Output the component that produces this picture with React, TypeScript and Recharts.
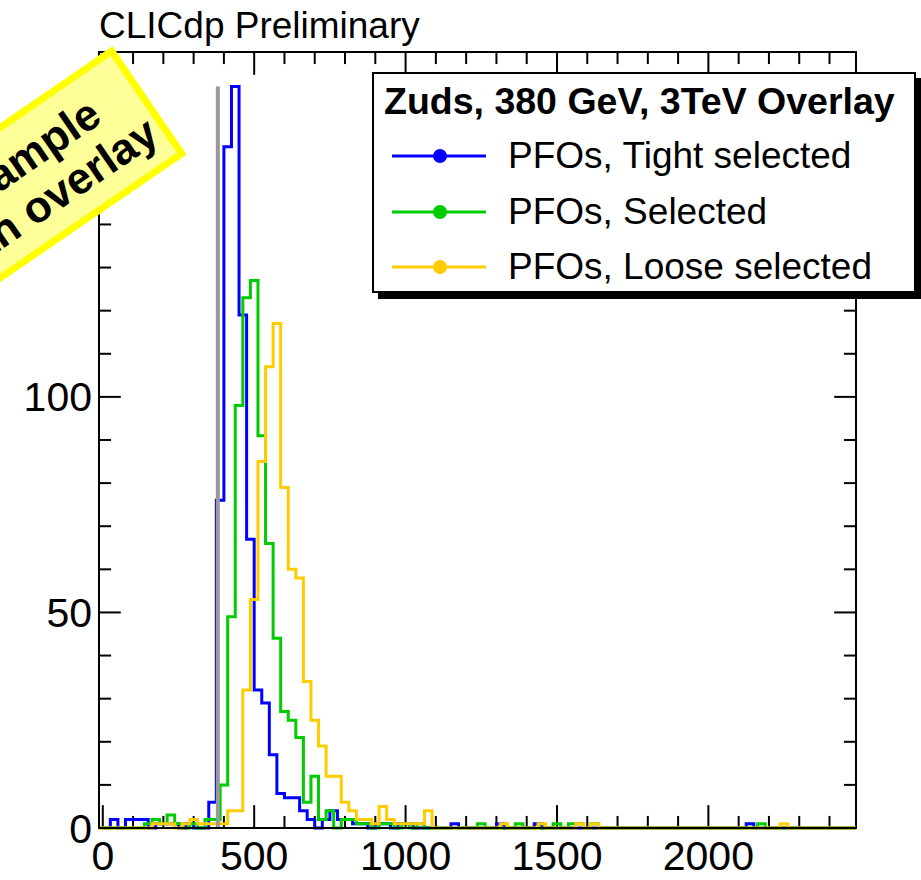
import React from "react";
import { ComposedChart, Line, XAxis, YAxis, ReferenceLine, ReferenceArea, Legend } from "recharts";

const FONT = "'Liberation Sans', Arial, Helvetica, sans-serif";

const BIN = 25;
const X_MIN = -12.5;
const X_MAX = 2487.5;
const Y_MAX = 180;

// counts per 25-unit bin
const TIGHT_START = 0;
const tightCounts = [
  0, 2, 0, 2, 2, 2, 0, 1, 1, 1,
  0, 1, 0, 0, 6, 76, 158, 172, 119, 67,
  32, 29, 17, 8, 7, 7, 4, 2, 0, 2,
  4, 2, 2, 1, 1, 0, 1, 1, 0, 1,
  1, 0, 0, 0, 0, 0, 1, 0, 0, 0,
  0, 0, 1, 0, 0, 0, 0, 1, 0, 0,
  0, 0, 0, 0, 0, 0, 0, 0, 0, 0,
  0, 0, 0, 0, 0, 0, 0, 0, 0, 0,
  0, 0, 0, 0, 0, 1, 0, 0, 0, 0,
  0, 0, 0, 0, 0, 0, 0, 0, 0, 0,
];

const SELECTED_START = -12.5;
const selectedCounts = [
  0, 0, 0, 0, 0, 0, 1, 2, 1, 3,
  1, 0, 1, 0, 2, 2, 10, 49, 98, 123,
  127, 91, 66, 44, 27, 25, 21, 6, 12, 2,
  4, 0, 2, 2, 1, 1, 0, 1, 1, 0,
  1, 0, 1, 0, 0, 0, 0, 0, 0, 0,
  1, 0, 0, 0, 0, 1, 0, 0, 0, 0,
  1, 0, 1, 1, 0, 1, 0, 0, 0, 0,
  0, 0, 0, 0, 0, 0, 0, 0, 0, 0,
  0, 0, 0, 0, 0, 0, 0, 1, 0, 0,
  0, 0, 0, 0, 0, 0, 0, 0, 0, 0,
];

const LOOSE_START = -12.5;
const looseCounts = [
  0, 0, 0, 0, 0, 0, 0, 1, 1, 1,
  0, 1, 2, 1, 1, 1, 1, 4, 4, 32,
  53, 85, 107, 117, 79, 60, 58, 34, 25, 19,
  12, 12, 6, 4, 2, 2, 1, 5, 2, 1,
  1, 1, 1, 4, 0, 0, 0, 0, 0, 0,
  0, 0, 0, 1, 0, 0, 0, 0, 1, 0,
  0, 0, 0, 1, 0, 1, 0, 0, 0, 0,
  0, 0, 0, 0, 0, 0, 0, 0, 0, 0,
  0, 0, 0, 0, 0, 0, 0, 0, 0, 0,
  1, 0, 0, 0, 0, 0, 0, 0, 0, 0,
];

// vertical marker at 380 GeV, drawn up to the tight peak
const MARKER_X = 380;
const MARKER_TOP = 172;

const xTickLabels = [0, 500, 1000, 1500, 2000];
const yTickLabels = [0, 50, 100, 150];
const xMinorStep = 100;
const yMinorStep = 10;

const series = [
  { key: "tight", name: "PFOs, Tight selected", color: "#0000ff", start: TIGHT_START, counts: tightCounts },
  { key: "selected", name: "PFOs, Selected", color: "#00cc00", start: SELECTED_START, counts: selectedCounts },
  { key: "loose", name: "PFOs, Loose selected", color: "#ffcc00", start: LOOSE_START, counts: looseCounts },
];

const toSteps = (start: number, counts: number[]) => {
  const pts = counts.map((y, i) => ({ x: start + i * BIN, y }));
  pts.push({ x: X_MAX, y: counts[counts.length - 1] });
  return pts;
};

// tick lengths in data units (plot is 757 x 776 px)
const X_TICK_MAJOR = 5.3;
const X_TICK_MINOR = 2.8;
const Y_TICK_MAJOR = 72;
const Y_TICK_MINOR = 40;

const xMinorTicks: number[] = [];
for (let v = 0; v <= 2400; v += xMinorStep) xMinorTicks.push(v);
const yMinorTicks: number[] = [];
for (let v = 0; v <= Y_MAX; v += yMinorStep) yMinorTicks.push(v);

function LegendBox() {
  return (
    <div
      style={{
        position: "relative",
        width: 544,
        height: 221,
        boxSizing: "border-box",
        border: "2px solid #000",
        boxShadow: "6px 6px 0 #000",
        background: "#fff",
        fontFamily: FONT,
        color: "#000",
      }}
    >
      <div style={{ position: "absolute", left: 10, top: 7, fontSize: 37.5, fontWeight: "bold", lineHeight: "40px", whiteSpace: "nowrap" }}>
        Zuds, 380 GeV, 3TeV Overlay
      </div>
      {series.map((s, i) => (
        <div
          key={s.key}
          style={{ position: "absolute", left: 0, top: 57 + i * 55.5, height: 50, display: "flex", alignItems: "center", whiteSpace: "nowrap" }}
        >
          <svg width={120} height={50}>
            <line x1={18} x2={112} y1={25} y2={25} stroke={s.color} strokeWidth={3} />
            <circle cx={66} cy={25} r={7} fill={s.color} />
          </svg>
          <span style={{ marginLeft: 14, fontSize: 37, lineHeight: "40px" }}>{s.name}</span>
        </div>
      ))}
    </div>
  );
}

const tickStyle = { fontSize: 41, fill: "#000", fontFamily: FONT };

export default function App() {
  return (
    <div style={{ position: "absolute", left: 0, top: 0, width: 921, height: 880, background: "#fff", overflow: "hidden", fontFamily: FONT }}>
      <div style={{ position: "absolute", left: 99, top: 7, fontSize: 37, lineHeight: "37px", color: "#000", whiteSpace: "nowrap" }}>
        CLICdp Preliminary
      </div>
      <ComposedChart width={921} height={880} margin={{ top: 52, right: 65, bottom: 6, left: 6 }}>
        <XAxis
          dataKey="x"
          type="number"
          domain={[X_MIN, X_MAX]}
          ticks={xTickLabels}
          interval={0}
          height={46}
          tickLine={false}
          tickSize={0}
          tickMargin={13}
          tick={tickStyle}
          axisLine={{ stroke: "#000", strokeWidth: 2 }}
        />
        <YAxis
          type="number"
          domain={[0, Y_MAX]}
          ticks={yTickLabels}
          interval={0}
          width={93}
          tickLine={false}
          tickSize={0}
          tickMargin={7}
          tick={tickStyle}
          axisLine={{ stroke: "#000", strokeWidth: 2 }}
        />

        {/* frame */}
        <ReferenceArea
          x1={X_MIN}
          x2={X_MAX}
          y1={0}
          y2={Y_MAX}
          fill="none"
          fillOpacity={0}
          stroke="#000"
          strokeWidth={2}
          ifOverflow="visible"
        />

        {xMinorTicks.map((t) => {
          const len = t % 500 === 0 ? X_TICK_MAJOR : X_TICK_MINOR;
          return (
            <React.Fragment key={`xt${t}`}>
              <ReferenceLine segment={[{ x: t, y: 0 }, { x: t, y: len }]} stroke="#000" strokeWidth={2} />
              <ReferenceLine segment={[{ x: t, y: Y_MAX }, { x: t, y: Y_MAX - len }]} stroke="#000" strokeWidth={2} />
            </React.Fragment>
          );
        })}
        {yMinorTicks.map((t) => {
          const len = t % 50 === 0 ? Y_TICK_MAJOR : Y_TICK_MINOR;
          return (
            <React.Fragment key={`yt${t}`}>
              <ReferenceLine segment={[{ x: X_MIN, y: t }, { x: X_MIN + len, y: t }]} stroke="#000" strokeWidth={2} />
              <ReferenceLine segment={[{ x: X_MAX, y: t }, { x: X_MAX - len, y: t }]} stroke="#000" strokeWidth={2} />
            </React.Fragment>
          );
        })}

        {series.map((s) => (
          <Line
            key={s.key}
            data={toSteps(s.start, s.counts)}
            dataKey="y"
            name={s.name}
            type="stepAfter"
            stroke={s.color}
            strokeWidth={3}
            dot={false}
            activeDot={false}
            isAnimationActive={false}
          />
        ))}

        <ReferenceLine segment={[{ x: MARKER_X, y: 0 }, { x: MARKER_X, y: MARKER_TOP }]} stroke="#999999" strokeWidth={4} />

        <Legend
          layout="horizontal"
          verticalAlign="middle"
          align="center"
          content={() => <LegendBox />}
          wrapperStyle={{ left: 372, top: 72, width: 544, height: 221 }}
        />
      </ComposedChart>

      <div
        style={{
          position: "absolute",
          left: -106,
          top: 114,
          width: 280,
          height: 131,
          boxSizing: "border-box",
          border: "7px solid #ffff00",
          background: "#ffff99",
          transform: "rotate(-34.4deg)",
          display: "flex",
          flexDirection: "column",
          alignItems: "center",
          justifyContent: "center",
          fontWeight: "bold",
          fontSize: 44,
          lineHeight: "48px",
          color: "#000",
          whiteSpace: "nowrap",
          zIndex: 5,
        }}
      >
        <div>Example</div>
        <div>with overlay</div>
      </div>
    </div>
  );
}
